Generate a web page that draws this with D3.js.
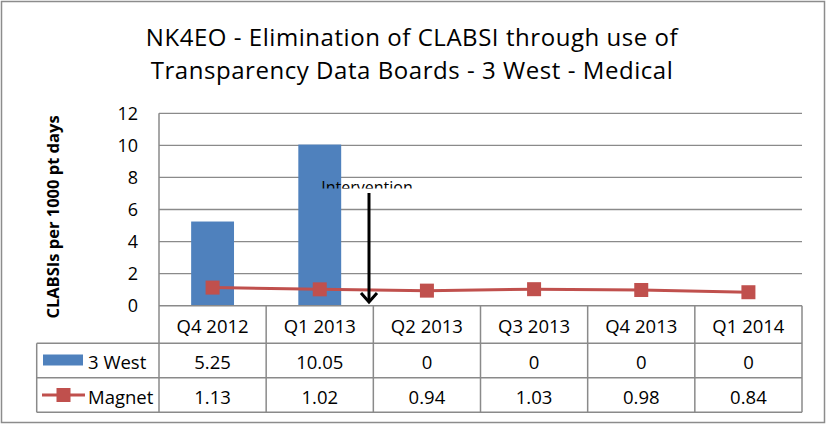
<!DOCTYPE html>
<html lang="en">
<head>
<meta charset="UTF-8">
<title>CLABSI chart</title>
<script src="https://d3js.org/d3.v7.min.js"></script>
<style>
  body { margin: 0; background: #fff; }
  svg text { font-family: "Open Sans", Lato, sans-serif; fill: #000; }
</style>
</head>
<body>
<script>
  // data
  const categories = ["Q4 2012", "Q1 2013", "Q2 2013", "Q3 2013", "Q4 2013", "Q1 2014"];
  const west = [5.25, 10.05, 0, 0, 0, 0];
  const magnet = [1.13, 1.02, 0.94, 1.03, 0.98, 0.84];
  const yTicks = [0, 2, 4, 6, 8, 10, 12];
  const titleLines = ["NK4EO - Elimination of CLABSI through use of",
                      "Transparency Data Boards - 3 West - Medical"];
  const seriesNames = ["3 West", "Magnet"];

  const width = 826, height = 424;
  const plotLeft = 159, plotRight = 802, plotTop = 113.3, base = 305.7;
  const rowLines = [base, 343.3, 377.7, 412.3];
  const legendLeft = 36.7;
  const blue = "#4F81BD", red = "#C0504D", grid = "#8a8a8a";

  const svg = d3.select("body").append("svg")
      .attr("width", width)
      .attr("height", height);

  // outer frame
  svg.append("rect")
      .attr("x", 1.5).attr("y", 1.5)
      .attr("width", width - 3).attr("height", height - 3)
      .attr("fill", "none").attr("stroke", "#8c8c8c").attr("stroke-width", 1.5);

  // title, two lines
  svg.append("g")
      .selectAll("text")
      .data(titleLines)
      .join("text")
      .attr("text-anchor", "middle")
      .attr("x", 412)
      .attr("y", (d, i) => 45.5 + i * 33)
      .style("font-size", "24px")
      .style("letter-spacing", "0.55px")
      .text(d => d);

  const x = d3.scaleBand().domain(categories).range([plotLeft, plotRight]);
  const y = d3.scaleLinear().domain([0, 12]).range([base, plotTop]);

  // gridlines
  svg.append("g")
      .selectAll("line")
      .data(yTicks.filter(d => d > 0))
      .join("line")
      .attr("x1", plotLeft).attr("x2", plotRight)
      .attr("y1", d => y(d)).attr("y2", d => y(d))
      .attr("stroke", grid).attr("stroke-width", 1.3);

  // y axis
  const yAxis = svg.append("g")
      .attr("transform", `translate(${plotLeft},0)`)
      .call(d3.axisLeft(y).tickValues(yTicks).tickSize(0).tickPadding(21));
  yAxis.select(".domain").remove();
  yAxis.selectAll("text")
      .style("font-size", "18px")
      .style("font-family", "'Open Sans', Lato, sans-serif")
      .attr("fill", "#000");

  svg.append("text")
      .attr("transform", "translate(52,217) rotate(-90)")
      .attr("text-anchor", "middle")
      .attr("dominant-baseline", "central")
      .style("font-size", "16.5px")
      .style("font-weight", "bold")
      .text("CLABSIs per 1000 pt days");

  // bars
  const bw = x.bandwidth() * 0.4;
  svg.append("g")
      .selectAll("rect")
      .data(west)
      .join("rect")
      .attr("x", (d, i) => x(categories[i]) + x.bandwidth() / 2 - bw / 2)
      .attr("y", d => y(d))
      .attr("width", bw)
      .attr("height", d => base - y(d))
      .attr("fill", blue);

  // magnet line
  const cx = (d, i) => x(categories[i]) + x.bandwidth() / 2;
  svg.append("path")
      .datum(magnet)
      .attr("d", d3.line().x(cx).y(d => y(d)))
      .attr("fill", "none").attr("stroke", red).attr("stroke-width", 3);
  svg.append("g")
      .selectAll("rect")
      .data(magnet)
      .join("rect")
      .attr("x", (d, i) => cx(d, i) - 7)
      .attr("y", d => y(d) - 7)
      .attr("width", 14).attr("height", 14)
      .attr("fill", red);

  // intervention note, text box cuts the label
  svg.append("clipPath").attr("id", "noteclip")
      .append("rect").attr("x", 300).attr("y", 170).attr("width", 140).attr("height", 18.5);
  svg.append("text")
      .attr("clip-path", "url(#noteclip)")
      .attr("x", 367).attr("y", 193)
      .attr("text-anchor", "middle")
      .style("font-size", "16px")
      .text("Intervention");
  const ax = 369;
  svg.append("line")
      .attr("x1", ax).attr("x2", ax).attr("y1", 193).attr("y2", 302)
      .attr("stroke", "#000").attr("stroke-width", 3);
  svg.append("path")
      .attr("d", `M${ax - 8},${293}L${ax},${302}L${ax + 8},${293}`)
      .attr("fill", "none").attr("stroke", "#000").attr("stroke-width", 3);

  // data table
  const tbl = svg.append("g").attr("stroke", grid).attr("stroke-width", 1.5);
  tbl.append("line").attr("x1", plotLeft).attr("x2", plotRight).attr("y1", base).attr("y2", base);
  rowLines.slice(1).forEach(r => {
    tbl.append("line").attr("x1", legendLeft).attr("x2", plotRight).attr("y1", r).attr("y2", r);
  });
  tbl.append("line").attr("x1", plotLeft).attr("x2", plotLeft).attr("y1", plotTop).attr("y2", rowLines[3]);
  tbl.append("line").attr("x1", legendLeft).attr("x2", legendLeft).attr("y1", rowLines[1]).attr("y2", rowLines[3]);
  categories.forEach(c => {
    tbl.append("line").attr("x1", x(c) + x.bandwidth()).attr("x2", x(c) + x.bandwidth())
        .attr("y1", base).attr("y2", rowLines[3]);
  });

  const cellText = (vals, yy) => svg.append("g")
      .selectAll("text")
      .data(vals)
      .join("text")
      .attr("x", (d, i) => cx(d, i))
      .attr("y", yy)
      .attr("text-anchor", "middle")
      .attr("dominant-baseline", "central")
      .style("font-size", "18.5px")
      .text(d => String(d));

  cellText(categories, (rowLines[0] + rowLines[1]) / 2 + 1);
  cellText(west, (rowLines[1] + rowLines[2]) / 2 + 1);
  cellText(magnet, (rowLines[2] + rowLines[3]) / 2 + 1);

  // legend keys in the table
  const r1 = (rowLines[1] + rowLines[2]) / 2, r2 = (rowLines[2] + rowLines[3]) / 2;
  svg.append("rect").attr("x", 43).attr("y", r1 - 6).attr("width", 40).attr("height", 11).attr("fill", blue);
  svg.append("line").attr("x1", 42).attr("x2", 85).attr("y1", r2).attr("y2", r2)
      .attr("stroke", red).attr("stroke-width", 3);
  svg.append("rect").attr("x", 63.5 - 7).attr("y", r2 - 7).attr("width", 14).attr("height", 14).attr("fill", red);
  svg.append("g")
      .selectAll("text")
      .data(seriesNames)
      .join("text")
      .attr("x", 88)
      .attr("y", (d, i) => (i === 0 ? r1 : r2) + 1)
      .attr("dominant-baseline", "central")
      .style("font-size", "18.5px")
      .text(d => d);
</script>
</body>
</html>
